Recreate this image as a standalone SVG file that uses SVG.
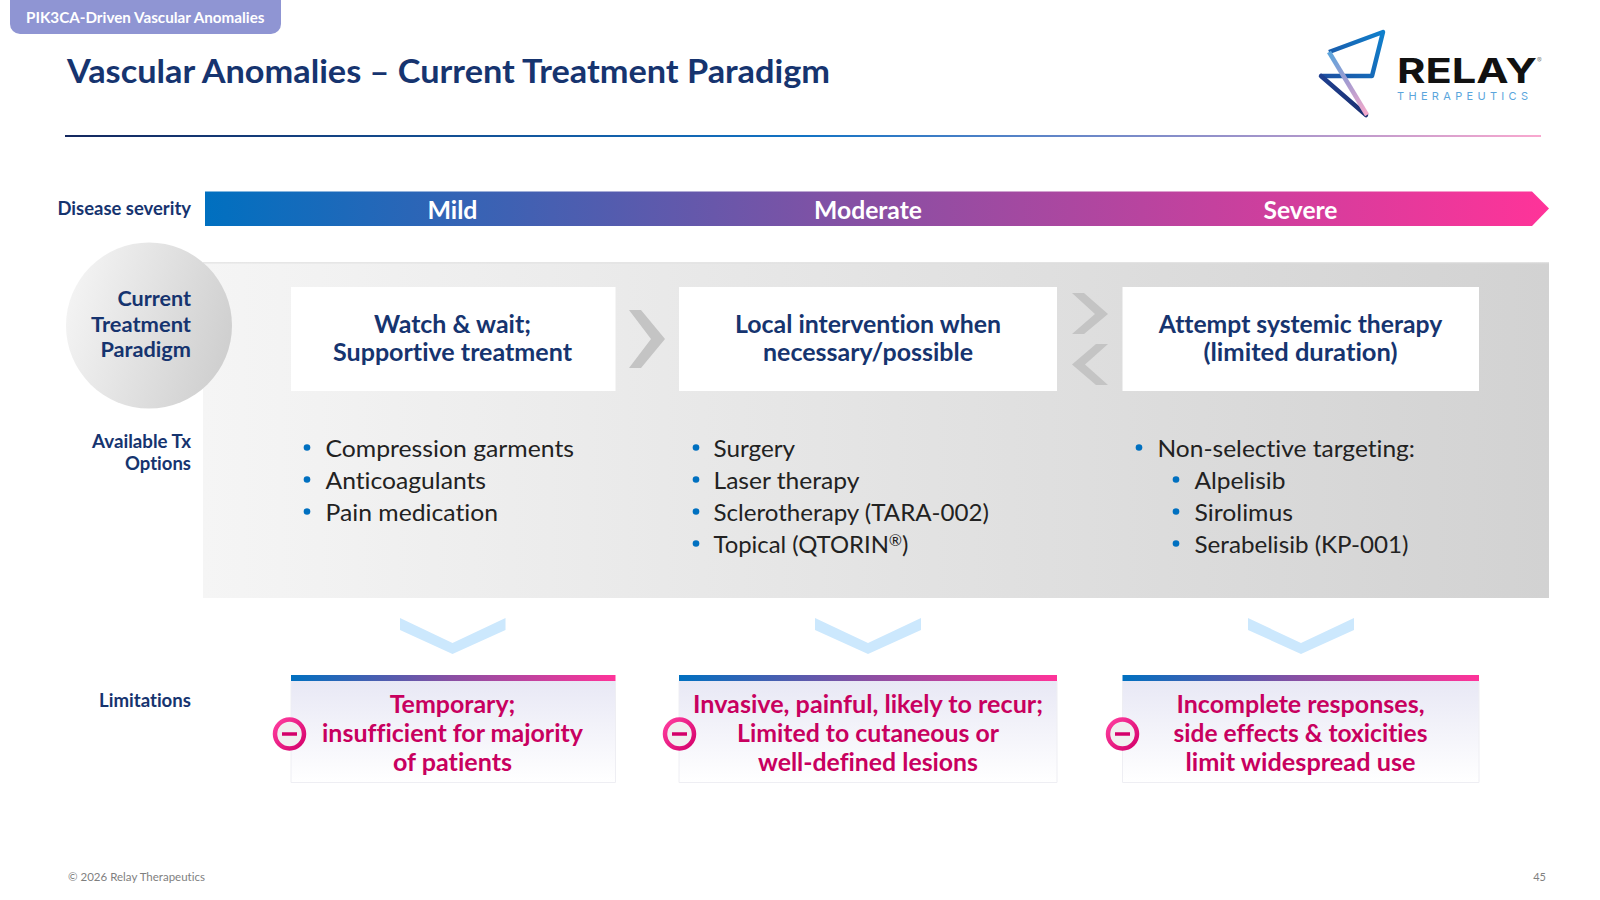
<svg xmlns="http://www.w3.org/2000/svg" width="1600" height="900" viewBox="0 0 1600 900">
<defs>
<style>
text{font-family:"Lato","Noto Sans",sans-serif;font-variant-ligatures:none}
.lab{font-weight:700;font-size:18px;fill:#16346f;text-anchor:end}
.big{font-size:21px}
.sev{font-weight:700;font-size:24px;fill:#fff;text-anchor:middle}
.hd{font-weight:700;font-size:24px;fill:#16346f;text-anchor:middle}
.li{font-size:24px;fill:#222}
.lim{font-weight:700;font-size:24px;fill:#c8005f;text-anchor:middle}
.bul{fill:#0070c0}
.chev{fill:#c4c4c4}
.down{fill:#cce8fd}
.box{fill:#fff}
.limbox{fill:url(#limfill)}
.limedge{fill:none;stroke:#eeeef3;stroke-width:1}
.ring{fill:#f0f0f0;stroke:url(#ring);stroke-width:4.5}
.minus{fill:#d4006a}
.logo{font-family:Inter,sans-serif}
</style>
<linearGradient id="rule" x1="0" x2="1" y1="0" y2="0"><stop offset="0" stop-color="#14285f"/><stop offset=".5" stop-color="#1273c4"/><stop offset="1" stop-color="#f9a8cf"/></linearGradient>
<linearGradient id="sevbar" x1="0" x2="1" y1="0" y2="0"><stop offset="0" stop-color="#0070c0"/><stop offset=".5" stop-color="#8a4fa3"/><stop offset="1" stop-color="#ff3399"/></linearGradient>
<linearGradient id="panel" x1="0" x2="1" y1="0" y2="0"><stop offset="0" stop-color="#f5f5f5"/><stop offset="1" stop-color="#d2d2d2"/></linearGradient>
<linearGradient id="circ" x1="0" x2="1" y1=".3" y2=".6"><stop offset="0" stop-color="#f4f4f4"/><stop offset="1" stop-color="#cfcfcf"/></linearGradient>
<linearGradient id="limfill" x1="0" x2="0" y1="0" y2="1"><stop offset="0" stop-color="#e8e8f5"/><stop offset="1" stop-color="#ffffff"/></linearGradient>
<linearGradient id="ring" x1="0" x2="1" y1="0" y2="1"><stop offset="0" stop-color="#ff3fa0"/><stop offset="1" stop-color="#d4006a"/></linearGradient>
<linearGradient id="lg1" gradientUnits="userSpaceOnUse" x1="1383" y1="32" x2="1321" y2="76"><stop offset="0" stop-color="#1080cc"/><stop offset="1" stop-color="#1d4fa0"/></linearGradient>
<linearGradient id="lg2" gradientUnits="userSpaceOnUse" x1="1321" y1="76" x2="1366" y2="115"><stop offset="0" stop-color="#1f3f8f"/><stop offset="1" stop-color="#1a2f70"/></linearGradient>
<linearGradient id="lg3" gradientUnits="userSpaceOnUse" x1="1329" y1="52" x2="1366" y2="115"><stop offset="0" stop-color="#5aa5dc"/><stop offset=".5" stop-color="#a79bd0"/><stop offset="1" stop-color="#f7aacb"/></linearGradient>
</defs>

<rect width="1600" height="900" fill="#fff"/>

<g id="header">
<path d="M10 0H281V24a10 10 0 0 1-10 10H20a10 10 0 0 1-10-10Z" fill="#8f95d3"/>
<text x="26" y="22.5" font-size="15" font-weight="700" fill="#fff" textLength="238.5" lengthAdjust="spacingAndGlyphs">PIK3CA-Driven Vascular Anomalies</text>
<text x="67" y="83" font-size="33" font-weight="700" fill="#16346f" textLength="763" lengthAdjust="spacingAndGlyphs">Vascular Anomalies – Current Treatment Paradigm</text>
<rect x="65" y="135" width="1476" height="2" fill="url(#rule)"/>
</g>

<g id="logo">
<path d="M1321 76H1372L1383 32L1329 52" fill="none" stroke="url(#lg1)" stroke-width="4.500" stroke-linejoin="round"/>
<path d="M1321 76L1366 115" fill="none" stroke="url(#lg2)" stroke-width="4.500" stroke-linecap="round"/>
<path d="M1329 52L1367 115" fill="none" stroke="url(#lg3)" stroke-width="4.500"/>
<text class="logo" x="1397" y="83" font-size="34" font-weight="700" fill="#111" textLength="140" lengthAdjust="spacingAndGlyphs">RELAY</text>
<text class="logo" x="1537" y="63" font-size="7" fill="#888">®</text>
<text class="logo" x="1397" y="100" font-size="11" fill="#5aa5dc" textLength="131">THERAPEUTICS</text>
</g>

<g id="severity">
<text class="lab" x="191" y="214.500" textLength="133.5" lengthAdjust="spacingAndGlyphs">Disease severity</text>
<path d="M205 191.500H1532L1549 208.500L1532 226H205Z" fill="url(#sevbar)"/>
<text class="sev" x="452.500" y="218.500" textLength="50" lengthAdjust="spacingAndGlyphs">Mild</text>
<text class="sev" x="868" y="218.500" textLength="108" lengthAdjust="spacingAndGlyphs">Moderate</text>
<text class="sev" x="1300.500" y="218.500" textLength="74" lengthAdjust="spacingAndGlyphs">Severe</text>
</g>

<g id="panel-bg"><rect x="203" y="262.500" width="1346" height="335.500" fill="url(#panel)"/><rect x="203" y="262" width="1346" height="1.500" fill="#dedede" opacity=".7"/></g>

<g id="paradigm-circle">
<ellipse cx="149" cy="325.500" rx="83" ry="83" fill="url(#circ)"/>
<text class="lab big" x="191" y="306" textLength="73.600" lengthAdjust="spacingAndGlyphs">Current</text>
<text class="lab big" x="191" y="331.500" textLength="100" lengthAdjust="spacingAndGlyphs">Treatment</text>
<text class="lab big" x="191" y="356.500" textLength="90.600" lengthAdjust="spacingAndGlyphs">Paradigm</text>
</g>

<g id="label-tx">
<text class="lab" x="191" y="447.500" textLength="99" lengthAdjust="spacingAndGlyphs">Available Tx</text>
<text class="lab" x="191" y="469.500" textLength="66" lengthAdjust="spacingAndGlyphs">Options</text>
</g>
<g id="label-limitations"><text class="lab" x="191" y="707" textLength="92" lengthAdjust="spacingAndGlyphs">Limitations</text></g>

<g id="connectors">
<polygon class="chev" points="629,310 641,310 665,339 641,368 629,368 651,339"/>
<polygon class="chev" points="1072,293 1084,293 1108,314 1084,334 1072,334 1095,314"/>
<polygon class="chev" points="1108,344 1096,344 1072,364.500 1096,385 1108,385 1085,364.500"/>
<polygon class="down" points="400,618 452.500,643 505.500,618 505.500,630 452.500,654 400,630"/>
<polygon class="down" points="815,618 868,643 921,618 921,630 868,654 815,630"/>
<polygon class="down" points="1248,618 1301,643 1354,618 1354,630 1301,654 1248,630"/>
</g>

<g id="col-mild">
<rect class="box" x="291" y="287" width="324.500" height="104"/>
<text class="hd" x="452.500" y="332.500" textLength="157" lengthAdjust="spacingAndGlyphs">Watch &amp; wait;</text>
<text class="hd" x="452.500" y="361" textLength="239" lengthAdjust="spacingAndGlyphs">Supportive treatment</text>
<circle class="bul" cx="307" cy="447.500" r="3.300"/><circle class="bul" cx="307" cy="479.500" r="3.300"/><circle class="bul" cx="307" cy="511.500" r="3.300"/>
<text class="li" x="325.500" y="457" textLength="248.500" lengthAdjust="spacingAndGlyphs">Compression garments</text>
<text class="li" x="325.500" y="489" textLength="160.500" lengthAdjust="spacingAndGlyphs">Anticoagulants</text>
<text class="li" x="325.500" y="521" textLength="172.500" lengthAdjust="spacingAndGlyphs">Pain medication</text>
</g>

<g id="col-moderate">
<rect class="box" x="679" y="287" width="378" height="104"/>
<text class="hd" x="868" y="332.500" textLength="266" lengthAdjust="spacingAndGlyphs">Local intervention when</text>
<text class="hd" x="868" y="361" textLength="210" lengthAdjust="spacingAndGlyphs">necessary/possible</text>
<circle class="bul" cx="696" cy="447.500" r="3.300"/><circle class="bul" cx="696" cy="479.500" r="3.300"/><circle class="bul" cx="696" cy="511.500" r="3.300"/><circle class="bul" cx="696" cy="543.500" r="3.300"/>
<text class="li" x="713.500" y="457" textLength="81.600" lengthAdjust="spacingAndGlyphs">Surgery</text>
<text class="li" x="713.500" y="489" textLength="146" lengthAdjust="spacingAndGlyphs">Laser therapy</text>
<text class="li" x="713.500" y="521" textLength="275.500" lengthAdjust="spacingAndGlyphs">Sclerotherapy (TARA-002)</text>
<text class="li" x="713.500" y="553" textLength="195" lengthAdjust="spacingAndGlyphs">Topical (QTORIN<tspan font-size="16" dy="-7">®</tspan><tspan dy="7">)</tspan></text>
</g>

<g id="col-severe">
<rect class="box" x="1122.500" y="287" width="356.500" height="104"/>
<text class="hd" x="1300.500" y="332.500" textLength="283.500" lengthAdjust="spacingAndGlyphs">Attempt systemic therapy</text>
<text class="hd" x="1300.500" y="361" textLength="194" lengthAdjust="spacingAndGlyphs">(limited duration)</text>
<circle class="bul" cx="1139" cy="447.500" r="3.300"/><circle class="bul" cx="1176" cy="479.500" r="3.300"/><circle class="bul" cx="1176" cy="511.500" r="3.300"/><circle class="bul" cx="1176" cy="543.500" r="3.300"/>
<text class="li" x="1157.500" y="457" textLength="257.500" lengthAdjust="spacingAndGlyphs">Non-selective targeting:</text>
<text class="li" x="1194.500" y="489" textLength="91" lengthAdjust="spacingAndGlyphs">Alpelisib</text>
<text class="li" x="1194.500" y="521" textLength="98.500" lengthAdjust="spacingAndGlyphs">Sirolimus</text>
<text class="li" x="1194.500" y="553" textLength="214" lengthAdjust="spacingAndGlyphs">Serabelisib (KP-001)</text>
</g>

<g id="lim-mild">
<rect class="limbox" x="291" y="681" width="324.500" height="101"/>
<path class="limedge" d="M291 681V782.500H615.500V681"/>
<rect x="291" y="675" width="324.500" height="6" fill="url(#sevbar)"/>
<text class="lim" x="452.500" y="713" textLength="125.700" lengthAdjust="spacingAndGlyphs">Temporary;</text>
<text class="lim" x="452.500" y="742" textLength="261" lengthAdjust="spacingAndGlyphs">insufficient for majority</text>
<text class="lim" x="452.500" y="771" textLength="119" lengthAdjust="spacingAndGlyphs">of patients</text>
<circle class="ring" cx="289.500" cy="734" r="14.500"/><rect class="minus" x="282" y="732.250" width="15" height="3.500"/>
</g>

<g id="lim-moderate">
<rect class="limbox" x="679" y="681" width="378" height="101"/>
<path class="limedge" d="M679 681V782.500H1057V681"/>
<rect x="679" y="675" width="378" height="6" fill="url(#sevbar)"/>
<text class="lim" x="868" y="713" textLength="350" lengthAdjust="spacingAndGlyphs">Invasive, painful, likely to recur;</text>
<text class="lim" x="868" y="742" textLength="262" lengthAdjust="spacingAndGlyphs">Limited to cutaneous or</text>
<text class="lim" x="868" y="771" textLength="220" lengthAdjust="spacingAndGlyphs">well-defined lesions</text>
<circle class="ring" cx="679.500" cy="734" r="14.500"/><rect class="minus" x="672" y="732.250" width="15" height="3.500"/>
</g>

<g id="lim-severe">
<rect class="limbox" x="1122.500" y="681" width="356.500" height="101"/>
<path class="limedge" d="M1122.500 681V782.500H1479V681"/>
<rect x="1122.500" y="675" width="356.500" height="6" fill="url(#sevbar)"/>
<text class="lim" x="1300.500" y="713" textLength="248" lengthAdjust="spacingAndGlyphs">Incomplete responses,</text>
<text class="lim" x="1300.500" y="742" textLength="254" lengthAdjust="spacingAndGlyphs">side effects &amp; toxicities</text>
<text class="lim" x="1300.500" y="771" textLength="230" lengthAdjust="spacingAndGlyphs">limit widespread use</text>
<circle class="ring" cx="1122.500" cy="734" r="14.500"/><rect class="minus" x="1115" y="732.250" width="15" height="3.500"/>
</g>

<g id="footer">
<text x="68" y="881" font-size="11" fill="#7f7f7f" textLength="137" lengthAdjust="spacingAndGlyphs">© 2026 Relay Therapeutics</text>
<text x="1546" y="881" font-size="11" fill="#7f7f7f" text-anchor="end">45</text>
</g>
</svg>
